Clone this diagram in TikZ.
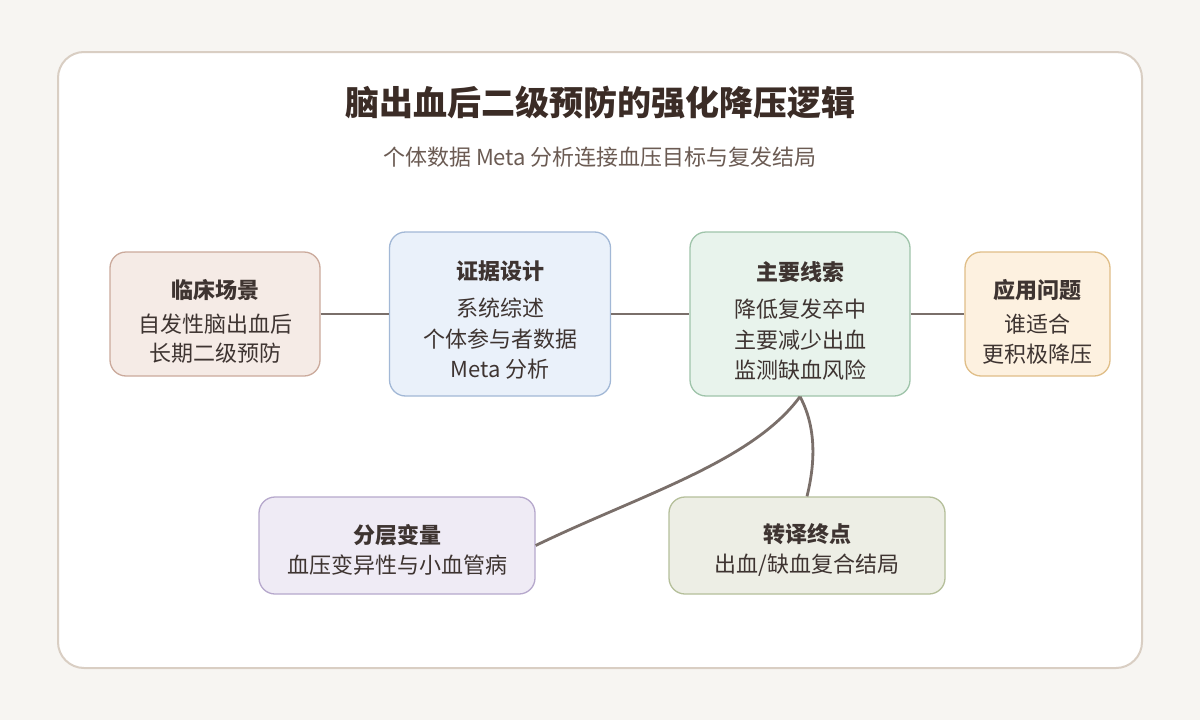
\documentclass[tikz,border=0pt]{standalone}
\usepackage{fontspec}
\setmainfont{Noto Sans CJK SC}
\usepackage{tikz}

\definecolor{pagebg}{HTML}{F7F5F2}
\definecolor{cardline}{HTML}{D9CEC3}
\definecolor{inkdark}{HTML}{3B2C26}
\definecolor{inksub}{HTML}{6B5B53}
\definecolor{inkbody}{HTML}{3E3431}
\definecolor{wire}{HTML}{7A6F6A}
\definecolor{clinfill}{HTML}{F5EBE6}
\definecolor{clinline}{HTML}{CBAA9C}
\definecolor{evidfill}{HTML}{EAF1FA}
\definecolor{evidline}{HTML}{A2B8D6}
\definecolor{mainfill}{HTML}{E8F3EC}
\definecolor{mainline}{HTML}{9FC4AA}
\definecolor{appfill}{HTML}{FDF1E0}
\definecolor{appline}{HTML}{E0BE88}
\definecolor{stratfill}{HTML}{EFEBF5}
\definecolor{stratline}{HTML}{B6A8CC}
\definecolor{transfill}{HTML}{EDEEE5}
\definecolor{transline}{HTML}{B5BF9A}

\begin{document}
\begin{tikzpicture}[x=1pt,y=-1pt,
  box/.style={draw,line width=1.3pt,rounded corners=16pt,inner sep=0pt},
  boxtext/.style={inner sep=0pt,align=center,text=inkbody,
    font=\fontsize{22}{30.5}\selectfont},
  wirestyle/.style={draw=wire,line width=2.8pt}]

\useasboundingbox[fill=pagebg] (0,0) rectangle (1200,720);
\draw[cardline,fill=white,line width=2pt,rounded corners=26pt] (58,52) rectangle (1142,668);

\node[text=inkdark,font=\fontsize{34}{40}\selectfont\bfseries] (title) at (600,103) {脑出血后二级预防的强化降压逻辑};
\node[text=inksub,font=\fontsize{22}{26}\selectfont] (subtitle) at (600,157) {个体数据 Meta 分析连接血压目标与复发结局};

% top row
\node[box,fill=clinfill,draw=clinline,minimum width=210pt,minimum height=124pt] (clin) at (215,314) {};
\node[box,fill=evidfill,draw=evidline,minimum width=221pt,minimum height=164pt] (evid) at (500,314) {};
\node[box,fill=mainfill,draw=mainline,minimum width=220pt,minimum height=164pt] (clue) at (800,314) {};
\node[box,fill=appfill,draw=appline,minimum width=145pt,minimum height=124pt] (app) at (1037.5,314) {};

\node[boxtext] (clintext) at ([yshift=-7pt]clin.center)
  {\textbf{临床场景}\\[4pt]自发性脑出血后\\[-2pt]长期二级预防};
\node[boxtext] (evidtext) at ([yshift=-6.5pt]evid.center)
  {\textbf{证据设计}\\[6.5pt]系统综述\\个体参与者数据\\Meta 分析};
\node[boxtext] (cluetext) at ([yshift=-7pt]clue.center)
  {\textbf{主要线索}\\[6.5pt]降低复发卒中\\主要减少出血\\监测缺血风险};
\node[boxtext] (apptext) at ([yshift=-8pt]app.center)
  {\textbf{应用问题}\\[3pt]谁适合\\更积极降压};

% bottom row
\node[box,fill=stratfill,draw=stratline,minimum width=276pt,minimum height=97pt] (strat) at (397,545.5) {};
\node[box,fill=transfill,draw=transline,minimum width=276pt,minimum height=97pt] (trans) at (807,545.5) {};

\node[boxtext] (strattext) at ([yshift=-4.5pt]strat.center)
  {\textbf{分层变量}\\血压变异性与小血管病};
\node[boxtext] (transtext) at ([yshift=-4.5pt]trans.center)
  {\textbf{转译终点}\\出血/缺血复合结局};

\draw[wirestyle] (clin.east) -- (evid.west);
\draw[wirestyle] (evid.east) -- (clue.west);
\draw[wirestyle] (clue.east) -- (app.west);
\draw[wirestyle] (clue.south) .. controls (752,462) and (640,495) .. (strat.east);
\draw[wirestyle] (clue.south) .. controls (818,430) and (814,468) .. (trans.north);

\end{tikzpicture}
\end{document}
